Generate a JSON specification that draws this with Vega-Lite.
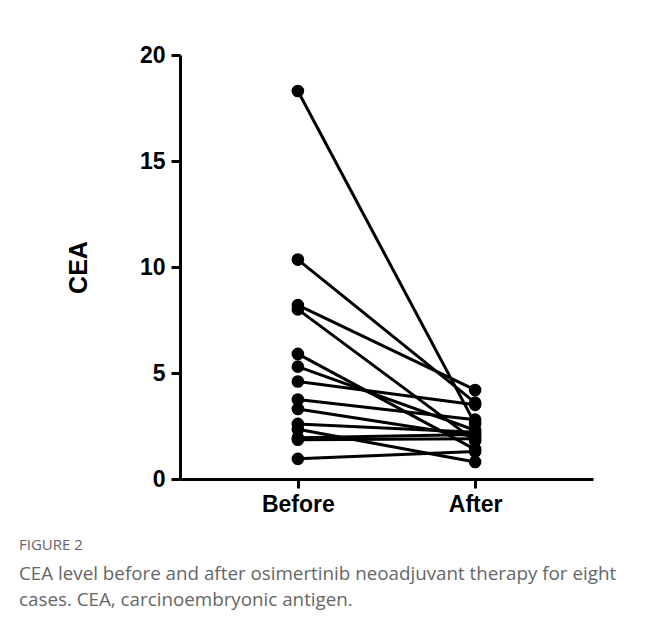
{
  "$schema": "https://vega.github.io/schema/vega-lite/v6.json",
  "autosize": "none",
  "width": 413,
  "height": 424,
  "padding": {"left": 180, "top": 55, "right": 53, "bottom": 146},
  "background": "white",
  "config": {"view": {"stroke": null}, "font": "Liberation Sans"},
  "title": {
    "text": "FIGURE 2",
    "subtitle": ["CEA level before and after osimertinib neoadjuvant therapy for eight", "cases. CEA, carcinoembryonic antigen."],
    "orient": "bottom",
    "anchor": "start",
    "frame": "group",
    "dx": -161,
    "offset": 22,
    "font": "Open Sans",
    "fontSize": 15,
    "fontWeight": "normal",
    "color": "#666666",
    "subtitleFont": "Open Sans",
    "subtitleFontSize": 18.8,
    "subtitleColor": "#666666",
    "subtitleLineHeight": 26,
    "subtitlePadding": 12
  },
  "data": {
    "values": [
      {"id": 1, "time": "Before", "value": 18.3}, {"id": 1, "time": "After", "value": 2.6},
      {"id": 2, "time": "Before", "value": 10.35}, {"id": 2, "time": "After", "value": 3.6},
      {"id": 3, "time": "Before", "value": 8.2}, {"id": 3, "time": "After", "value": 4.2},
      {"id": 4, "time": "Before", "value": 8.0}, {"id": 4, "time": "After", "value": 1.8},
      {"id": 5, "time": "Before", "value": 5.9}, {"id": 5, "time": "After", "value": 1.4},
      {"id": 6, "time": "Before", "value": 5.3}, {"id": 6, "time": "After", "value": 2.3},
      {"id": 7, "time": "Before", "value": 4.6}, {"id": 7, "time": "After", "value": 3.5},
      {"id": 8, "time": "Before", "value": 3.75}, {"id": 8, "time": "After", "value": 2.8},
      {"id": 9, "time": "Before", "value": 3.3}, {"id": 9, "time": "After", "value": 2.0},
      {"id": 10, "time": "Before", "value": 2.6}, {"id": 10, "time": "After", "value": 2.2},
      {"id": 11, "time": "Before", "value": 2.35}, {"id": 11, "time": "After", "value": 0.8},
      {"id": 12, "time": "Before", "value": 1.95}, {"id": 12, "time": "After", "value": 2.1},
      {"id": 13, "time": "Before", "value": 1.85}, {"id": 13, "time": "After", "value": 1.9},
      {"id": 14, "time": "Before", "value": 0.95}, {"id": 14, "time": "After", "value": 1.3}
    ]
  },
  "encoding": {
    "x": {
      "field": "time",
      "type": "nominal",
      "sort": ["Before", "After"],
      "scale": {"type": "point", "padding": 0.665},
      "axis": {
        "title": null,
        "labelAngle": 0,
        "labelFont": "Liberation Sans",
        "labelFontSize": 23,
        "labelFontWeight": "bold",
        "labelColor": "black",
        "labelPadding": 5,
        "domainColor": "black",
        "domainWidth": 3,
        "tickColor": "black",
        "tickWidth": 3,
        "tickSize": 9
      }
    },
    "y": {
      "field": "value",
      "type": "quantitative",
      "scale": {"domain": [0, 20], "nice": false},
      "axis": {
        "title": "CEA",
        "titleFont": "Liberation Sans",
        "titleFontSize": 25,
        "titleFontWeight": "bold",
        "titleColor": "black",
        "titlePadding": 48,
        "values": [0, 5, 10, 15, 20],
        "grid": false,
        "labelFont": "Liberation Sans",
        "labelFontSize": 23,
        "labelFontWeight": "bold",
        "labelColor": "black",
        "labelPadding": 6,
        "domainColor": "black",
        "domainWidth": 3,
        "tickColor": "black",
        "tickWidth": 3,
        "tickSize": 9
      }
    }
  },
  "layer": [
    {
      "mark": {"type": "line", "color": "black", "strokeWidth": 3},
      "encoding": {"detail": {"field": "id", "type": "nominal"}}
    },
    {
      "mark": {"type": "point", "filled": true, "color": "black", "opacity": 1, "size": 160}
    }
  ]
}
